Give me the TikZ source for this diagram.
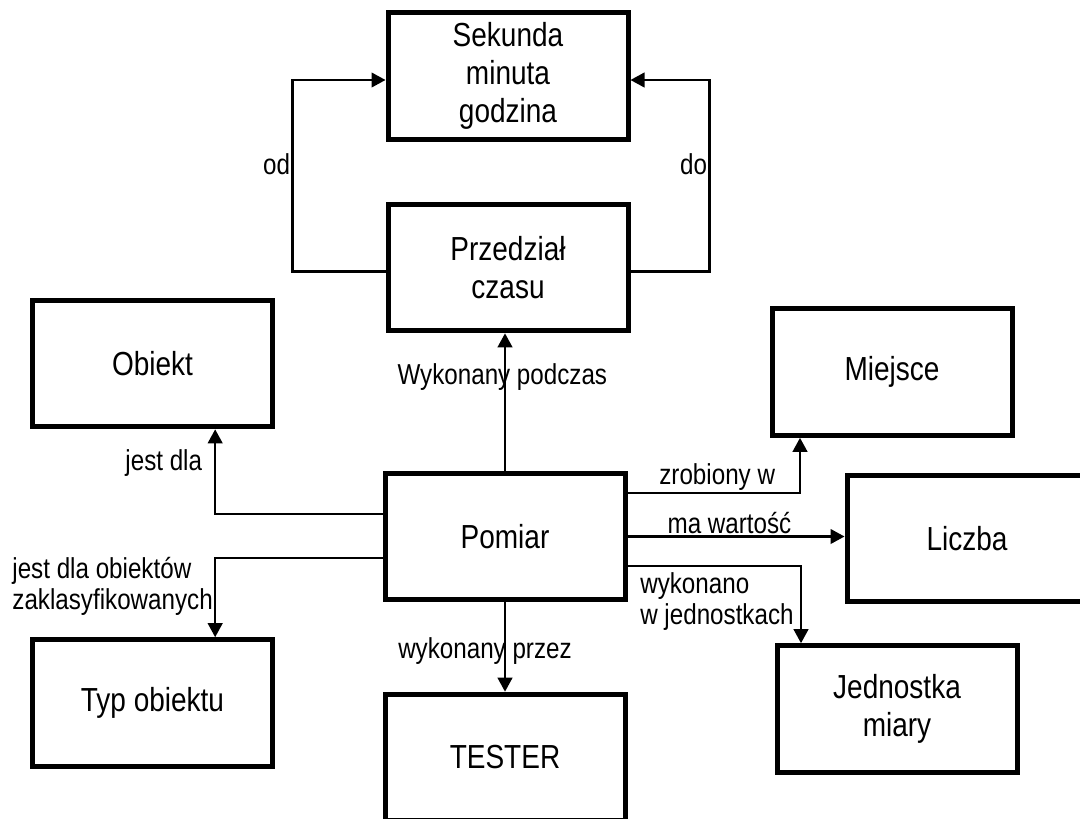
\documentclass[tikz,border=0pt]{standalone}
\usepackage{fontspec}
\setmainfont{Liberation Sans}[FakeStretch=0.84]
\usepackage {tikz}
\usetikzlibrary {positioning}
\usetikzlibrary{arrows.meta}

\begin{document}
\begin{tikzpicture}[x=0.75pt, y=-0.75pt, box node/.style={shape=rectangle,draw=black,line width=3.75pt,minimum width=180pt,minimum height=95pt,align=center,font=\fontsize{25}{28.5}\selectfont}, lbl node/.style={inner sep=1pt,align=left,font=\fontsize{21.6}{23.3}\selectfont}, conn/.style={draw=black,line width=1.6pt,-{Triangle[length=10.5pt,width=11pt]}}, ]
		\useasboundingbox (0,0) rectangle (1080,818);
		%boxes
		\node[box node] (sek) at (508,76){Sekunda\\minuta\\godzina};
		\node[box node] (prz) at (508,267.5){Przedział\\czasu};
		\node[box node] (obi) at (152.5,363.5){Obiekt};
		\node[box node] (mie) at (892,372){Miejsce};
		\node[box node] (pom) at (505,536.5){Pomiar};
		\node[box node] (lic) at (967,538.5){Liczba};
		\node[box node] (typ) at (152.5,703){Typ obiektu};
		\node[box node] (tes) at (505,757.5){TESTER};
		\node[box node] (jed) at (897,709){Jednostka\\miary};
		
		%time interval
		\path[conn] ([yshift=-3pt]prz.west) -- ++(-93,0) |- ([yshift=-3pt]sek.west) node[lbl node, left, pos=0.28]{od};
		\path[conn] ([yshift=-3pt]prz.east) -- ++(79,0) |- ([yshift=-3pt]sek.east) node[lbl node, left, pos=0.28]{do};
		
		%from measurement
		\path[conn] (pom.north) -- (pom.north |- prz.south) node[lbl node, pos=0.68, xshift=-2pt]{Wykonany podczas};
		\path[conn] ([yshift=17pt]pom.west) -| ([xshift=47pt]obi.south) node[lbl node, left=8pt, pos=0.8]{jest dla};
		\path[conn] ([yshift=-16pt]pom.west) -| ([xshift=47pt]typ.north) node[lbl node, left=0pt, pos=0.68]{jest dla obiektów\\zaklasyfikowanych};
		\path[conn] (pom.south) -- (tes.north) node[lbl node, pos=0.55, xshift=-15pt]{wykonany przez};
		\path[conn] ([yshift=32.6pt]pom.east) -| ([xshift=-69pt]mie.south) node[lbl node, above, pos=0.26]{zrobiony w};
		\path[conn] (pom.east) -- (pom.east -| lic.west) node[lbl node, above, pos=0.47]{ma wartość};
		\path[conn] ([yshift=-22pt]pom.east) -| ([xshift=-72pt]jed.north) node[lbl node, anchor=north west, pos=0.03, yshift=-3pt]{wykonano\\w jednostkach};
		
\end{tikzpicture}
\end{document}
